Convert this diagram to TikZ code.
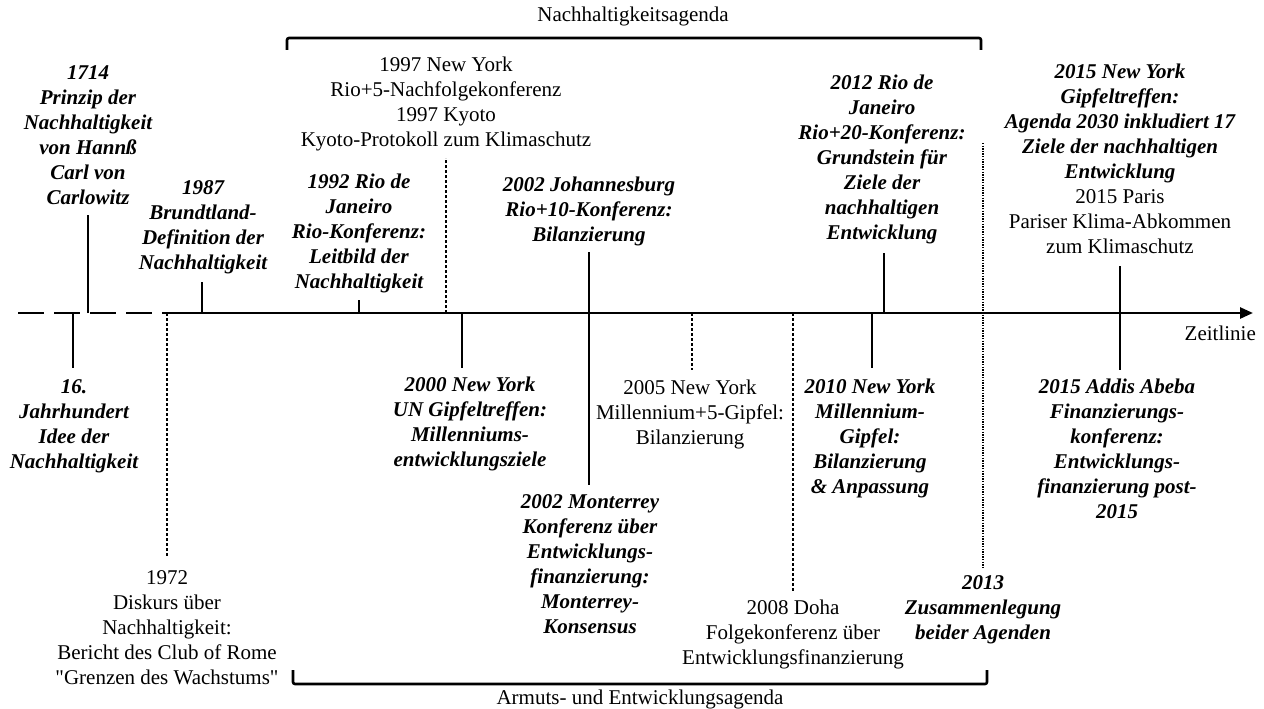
\documentclass[tikz,border=0pt]{standalone}
\usepackage{fontspec}
\setmainfont{Liberation Serif}
\usetikzlibrary{arrows.meta}
\newcommand\bitxt[1]{{\bfseries\itshape #1}}
\begin{document}
\begin{tikzpicture}[x=1pt,y=-1pt,
  lbl/.style={font=\fontsize{21}{25}\selectfont\bfseries\itshape, align=center, inner sep=0pt, anchor=north},
  lblr/.style={font=\fontsize{21}{25}\selectfont, align=center, inner sep=0pt, anchor=north},
  tickline/.style={line width=1.5pt},
  dashline/.style={line width=1.2pt, dash pattern=on 3.2pt off 1.8pt},
  dotline/.style={line width=1.2pt, dash pattern=on 1.3pt off 1.3pt},
  axisline/.style={line width=2.6pt},
  bracket/.style={line width=2.6pt, rounded corners=2pt}]
\useasboundingbox (0,0) rectangle (1264,709);

% axis
\coordinate (a0) at (18,313);
\coordinate (a1) at (163,313);
\coordinate (a2) at (1253,313);
\draw[axisline, dash pattern=on 26pt off 10pt] (a0) -- (a1);
\draw[axisline, -{Triangle[length=13pt,width=11pt]}] (a1) -- (a2);
\node[font=\fontsize{21}{25}\selectfont, inner sep=0pt, anchor=east] (zeit) at (1256,333) {Zeitlinie};

% brackets
\coordinate (b1) at (287,50); \coordinate (b2) at (287,38);
\coordinate (b3) at (981,38); \coordinate (b4) at (981,50);
\draw[bracket] (b1) -- (b2) -- (b3) -- (b4);
\node[font=\fontsize{21}{25}\selectfont, inner sep=0pt] (nagenda) at (633,16) {Nachhaltigkeitsagenda};
\coordinate (c1) at (293,670); \coordinate (c2) at (293,684);
\coordinate (c3) at (987,684); \coordinate (c4) at (987,670);
\draw[bracket] (c1) -- (c2) -- (c3) -- (c4);
\node[font=\fontsize{21}{25}\selectfont, inner sep=0pt] (aagenda) at (640,699) {Armuts- und Entwicklungsagenda};

% --- above the axis ---
\node[lbl] (e1714) at (88,65) {1714\\Prinzip der\\Nachhaltigkeit\\von Hannß\\Carl von\\Carlowitz};
\coordinate (t1714a) at (88,313); \coordinate (t1714b) at (88,215);
\draw[tickline] (t1714a) -- (t1714b);

\node[lbl] (e1987) at (203,180) {1987\\Brundtland-\\Definition der\\Nachhaltigkeit};
\coordinate (t1987a) at (202,313); \coordinate (t1987b) at (202,282);
\draw[tickline] (t1987a) -- (t1987b);

\node[lbl] (e1992) at (359,174) {1992 Rio de\\Janeiro\\Rio-Konferenz:\\Leitbild der\\Nachhaltigkeit};
\coordinate (t1992a) at (359,313); \coordinate (t1992b) at (359,300);
\draw[tickline] (t1992a) -- (t1992b);

\node[lblr] (e1997) at (446,57) {1997 New York\\Rio+5-Nachfolgekonferenz\\1997 Kyoto\\Kyoto-Protokoll zum Klimaschutz};
\coordinate (t1997a) at (446,313); \coordinate (t1997b) at (446,158);
\draw[dashline] (t1997a) -- (t1997b);

\node[lbl] (e2002j) at (589,177) {2002 Johannesburg\\Rio+10-Konferenz:\\Bilanzierung};
\coordinate (t2002a) at (589,313); \coordinate (t2002b) at (589,252);
\draw[tickline] (t2002a) -- (t2002b);

\node[lbl] (e2012) at (882,75) {2012 Rio de\\Janeiro\\Rio+20-Konferenz:\\Grundstein für\\Ziele der\\nachhaltigen\\Entwicklung};
\coordinate (t2012a) at (884,313); \coordinate (t2012b) at (884,253);
\draw[tickline] (t2012a) -- (t2012b);

\node[lblr] (e2015n) at (1120,64) {\bitxt{2015 New York}\\\bitxt{Gipfeltreffen:}\\\bitxt{Agenda 2030 inkludiert 17}\\\bitxt{Ziele der nachhaltigen}\\\bitxt{Entwicklung}\\2015 Paris\\Pariser Klima-Abkommen\\zum Klimaschutz};
\coordinate (t2015a) at (1120,313); \coordinate (t2015b) at (1120,266);
\draw[tickline] (t2015a) -- (t2015b);

% --- below the axis ---
\node[lbl] (e16) at (74,379) {16.\\Jahrhundert\\Idee der\\Nachhaltigkeit};
\coordinate (t16a) at (73,313); \coordinate (t16b) at (73,368);
\draw[tickline] (t16a) -- (t16b);

\node[lblr] (e1972) at (167,570) {1972\\Diskurs über\\Nachhaltigkeit:\\Bericht des Club of Rome\\\textquotedbl Grenzen des Wachstums\textquotedbl};
\coordinate (t1972a) at (167,313); \coordinate (t1972b) at (167,556);
\draw[dashline] (t1972a) -- (t1972b);

\node[lbl] (e2000) at (470,377) {2000 New York\\UN Gipfeltreffen:\\Millenniums-\\entwicklungsziele};
\coordinate (t2000a) at (462,313); \coordinate (t2000b) at (462,368);
\draw[tickline] (t2000a) -- (t2000b);

\node[lbl] (e2002m) at (590,494) {2002 Monterrey\\Konferenz über\\Entwicklungs-\\finanzierung:\\Monterrey-\\Konsensus};
\coordinate (t2002c) at (589,485);
\draw[tickline] (t2002a) -- (t2002c);

\node[lblr] (e2005) at (690,380) {2005 New York\\Millennium+5-Gipfel:\\Bilanzierung};
\coordinate (t2005a) at (692,313); \coordinate (t2005b) at (692,370);
\draw[dashline] (t2005a) -- (t2005b);

\node[lblr] (e2008) at (793,600) {2008 Doha\\Folgekonferenz über\\Entwicklungsfinanzierung};
\coordinate (t2008a) at (793,313); \coordinate (t2008b) at (793,592);
\draw[dashline] (t2008a) -- (t2008b);

\node[lbl] (e2010) at (870,379) {2010 New York\\Millennium-\\Gipfel:\\Bilanzierung\\\& Anpassung};
\coordinate (t2010a) at (872,313); \coordinate (t2010b) at (872,368);
\draw[tickline] (t2010a) -- (t2010b);

\node[lbl] (e2013) at (983,575) {2013\\Zusammenlegung\\beider Agenden};
\coordinate (t2013a) at (983,143); \coordinate (t2013b) at (983,567);
\draw[dotline] (t2013a) -- (t2013b);

\node[lbl] (e2015a) at (1117,379) {2015 Addis Abeba\\Finanzierungs-\\konferenz:\\Entwicklungs-\\finanzierung post-\\2015};
\coordinate (t2015c) at (1120,313); \coordinate (t2015d) at (1120,370);
\draw[tickline] (t2015c) -- (t2015d);
\end{tikzpicture}
\end{document}
